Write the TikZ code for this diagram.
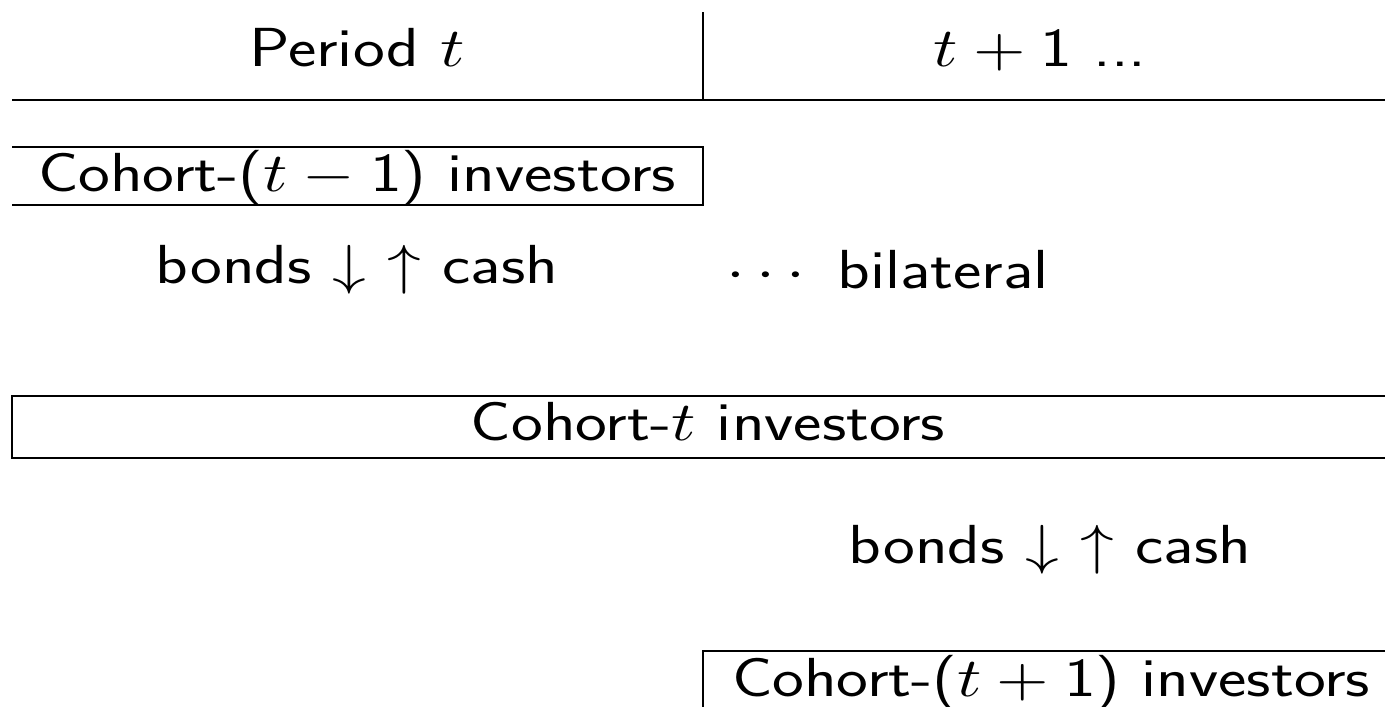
\RequirePackage{fix-cm}
\documentclass[tikz,border=0pt]{standalone}
\usepackage{amsmath}
\usepackage[no-math]{fontspec}
\setsansfont{lmsans17-regular.otf}
\tikzset{
  lbl/.style={font=\sffamily, xscale=6.75, yscale=5.5, inner sep=0pt, anchor=center},
  lblbase/.style={lbl, anchor=base},
  rule/.style={line width=1.6pt, black},
}
\begin{document}
\begin{tikzpicture}[x=1pt, y=-1pt]
  \useasboundingbox (0,0) rectangle (1385,707);

  % header
  \node[lblbase] (hdrL) at (357,66) {Period $t$};
  \node[lblbase] (hdrR) at (1040,66) {$t+\textsf{1}$ ...};
  \draw[rule] (703,12) -- (703,100);
  \draw[rule] (12,100) -- (1385,100);

  % cohort t-1
  \node[lblbase] (cohA) at (357,191) {Cohort-($t-\textsf{1}$) investors};
  \draw[rule] (12,147) -- (703,147) -- (703,205) -- (12,205);

  % first exchange row
  \node[lbl] (flowA) at (357,270) {bonds $\downarrow$ $\uparrow$ cash};
  \node[lbl, anchor=west] (bilat) at (725,270) {$\cdots$ bilateral};

  % cohort t
  \node[lblbase] (cohB) at (708,440) {Cohort-$t$ investors};
  \draw[rule] (1385,396) -- (12,396) -- (12,458) -- (1385,458);

  % second exchange row
  \node[lbl] (flowB) at (1050,550) {bonds $\downarrow$ $\uparrow$ cash};

  % cohort t+1
  \node[lblbase] (cohC) at (1051,696) {Cohort-($t+\textsf{1}$) investors};
  \draw[rule] (703,707) -- (703,651) -- (1385,651);
\end{tikzpicture}
\end{document}
